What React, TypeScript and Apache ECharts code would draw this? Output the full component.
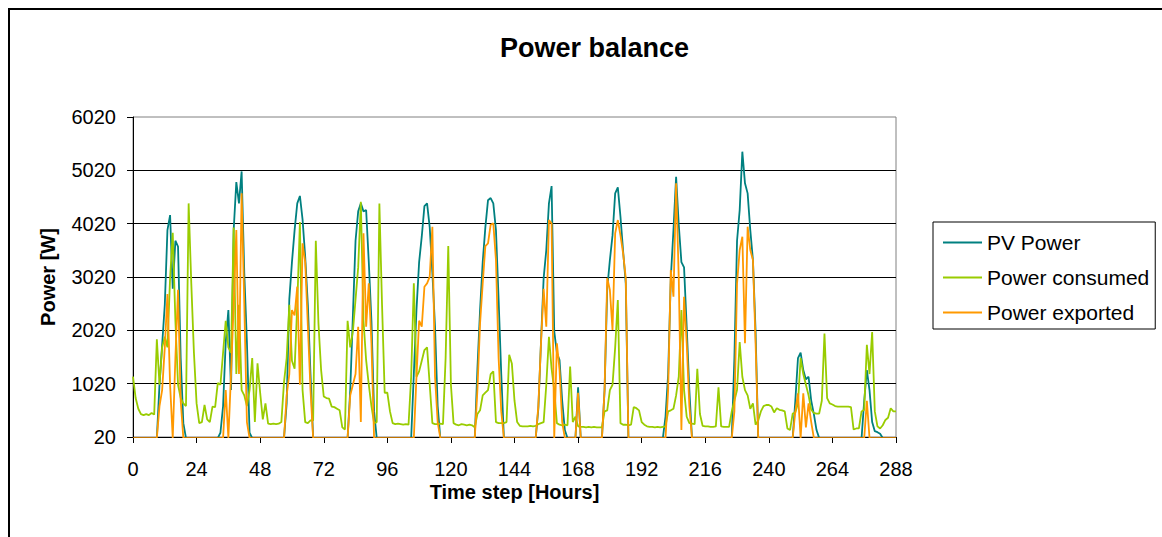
import React, { useEffect, useRef } from "react";
import * as echarts from "echarts";

// Hourly time steps 0..288
const HOURS: number[] = Array.from({ length: 289 }, (_, i) => i);

// Y axis starts at 20 W with 1000 W steps (tick labels 20, 1020, ... 6020)
const Y_BASE = 20;
const Y_TICK_LABELS = [20, 1020, 2020, 3020, 4020, 5020, 6020];
const X_TICKS = [0, 24, 48, 72, 96, 120, 144, 168, 192, 216, 240, 264, 288];

const SERIES_NAMES = ["PV Power", "Power consumed", "Power exported"];

const pvPower: number[] = [
  0,0,0,0,0,0,0,0,0,0,1000,1750,2500,3900,4180,2800,3700,3590,1500,280,0,0,0,0,
  0,0,0,0,0,0,0,0,0,100,600,1800,2400,900,3900,4800,4400,5000,3100,1800,100,0,0,0,
  0,0,0,0,0,0,0,0,0,0,650,2600,3300,3900,4400,4540,4100,3400,2500,1200,0,0,0,0,
  0,0,0,0,0,0,0,0,0,0,900,2300,3700,4250,4400,4250,4276,3300,2200,500,0,0,0,0,
  0,0,0,0,0,0,0,0,0,0,1200,2400,3300,3780,4350,4400,3950,3100,2088,600,0,0,0,0,
  0,0,0,0,0,0,0,0,0,0,1300,2400,3300,3950,4460,4500,4400,3900,2600,1200,0,0,0,0,
  0,0,0,0,0,0,0,0,0,550,1800,3000,3526,4400,4726,2000,1600,1463,700,150,0,0,0,0,
  950,0,0,0,0,0,0,0,0,0,900,2800,3338,3800,4588,4700,4150,3500,2900,0,0,0,0,0,
  0,0,0,0,0,0,0,0,0,400,1200,3000,3900,4901,4000,3300,3200,2088,900,0,0,0,0,0,
  0,0,0,0,0,0,0,0,0,0,0,1500,3700,4276,5370,4776,4588,3900,3338,2000,0,0,0,0,
  0,0,0,0,0,0,0,0,0,0,700,1500,1600,1276,1100,1150,700,450,150,0,0,0,0,0,
  0,0,0,0,0,0,0,0,0,0,0,0,700,1276,900,300,130,110,80,0,0,0,0,0,
  0,
];

const powerConsumed: number[] = [
  1150,750,550,450,430,450,430,470,440,1850,1000,1700,1900,1700,3000,3850,2200,1000,750,650,600,4400,2900,1600,
  650,280,300,620,350,300,590,580,1030,1000,1600,2200,1700,1600,3950,1200,2500,900,800,600,900,1500,300,1400,
  850,350,650,270,260,270,260,270,300,1050,1500,2500,1450,1300,2500,4050,900,300,280,330,330,3700,2150,1280,
  780,750,740,590,580,550,520,200,160,2200,1700,2000,2600,3200,4430,2200,1460,1000,600,280,300,4400,2500,850,
  850,500,280,260,270,260,250,260,250,1150,2900,1150,1250,1450,1650,1700,1000,280,260,260,270,260,1500,3600,
  1000,280,250,240,260,250,240,250,240,200,450,520,800,850,900,1200,1250,300,280,280,280,300,1560,1400,
  700,300,230,220,220,220,230,220,230,260,280,300,1000,1900,1300,900,280,250,240,250,240,1340,300,400,
  220,210,210,200,210,200,210,200,200,200,500,520,900,1000,1700,2590,280,250,250,240,250,580,560,520,
  300,250,220,210,210,200,210,200,210,220,500,520,550,800,1150,2400,900,400,280,270,260,1300,450,230,
  220,220,210,210,220,950,220,210,210,210,500,700,900,1800,1150,900,800,550,650,250,330,500,600,620,
  620,590,480,560,530,520,500,180,150,460,480,650,1500,1200,1000,800,530,470,460,460,700,1960,750,650,
  630,600,590,590,590,590,590,580,160,180,180,500,530,1750,1200,1990,500,220,180,240,340,380,560,500,
  500,
];

const powerExported: number[] = [
  0,0,0,0,0,0,0,0,0,0,600,900,1700,2700,1000,0,1500,2780,700,0,0,0,0,0,
  0,0,0,0,0,0,0,0,0,0,0,900,0,1200,2500,3900,1200,4590,2530,300,0,0,0,0,
  0,0,0,0,0,0,0,0,0,0,800,1200,2400,2300,2838,1000,3651,3300,2100,900,0,0,0,0,
  0,0,0,0,0,0,0,0,0,0,800,1000,1200,2088,300,3838,2088,2900,1776,0,0,0,0,0,
  0,0,0,0,0,0,0,0,0,0,0,1151,2200,2088,2838,2900,3026,3963,1151,300,0,0,0,0,
  0,0,0,0,0,0,0,0,0,0,900,2151,2900,3600,3651,4000,4026,3338,1500,500,0,0,0,0,
  0,0,0,0,0,0,0,0,0,600,1776,2800,2088,4088,4026,0,1776,1276,300,0,0,0,0,0,
  850,0,0,0,0,0,0,0,0,0,900,3000,2776,2026,3838,4088,3800,3463,3000,0,0,0,0,0,
  0,0,0,0,0,0,0,0,0,0,900,3151,2651,4776,3000,150,2651,1776,600,0,0,0,0,0,
  0,0,0,0,0,0,0,0,0,0,0,500,2901,3526,3776,1776,3963,3526,3338,1776,0,0,0,0,
  0,0,0,0,0,0,0,0,0,0,500,838,0,838,200,651,300,0,0,0,0,0,0,0,
  0,0,0,0,0,0,0,0,0,0,0,0,0,700,0,0,0,0,0,0,0,0,0,0,
  0,
];

const COLORS = ["#008080", "#99CC00", "#FF9900"];
const FONT = "'Liberation Sans', Arial, Helvetica, sans-serif";

function toPairs(values: number[]) {
  return values.map((v, i) => [HOURS[i], v - Y_BASE]);
}

export default function App() {
  const ref = useRef<HTMLDivElement>(null);

  useEffect(() => {
    if (!ref.current) return;
    const chart = echarts.init(ref.current, undefined, { renderer: "svg" });
    const seriesValues = [pvPower, powerConsumed, powerExported];
    const option: any = {
      animation: false,
      backgroundColor: "#ffffff",
      textStyle: { fontFamily: FONT, color: "#000" },
      title: {
        text: "Power balance",
        left: 485,
        top: 19,
        textStyle: { fontFamily: FONT, fontSize: 27, fontWeight: "bold", color: "#000" },
      },
      legend: {
        orient: "vertical",
        left: 923,
        top: 212,
        icon: "rect",
        itemWidth: 39,
        itemHeight: 2,
        itemGap: 14,
        padding: [10, 6, 6, 10],
        borderColor: "#000",
        borderWidth: 1,
        textStyle: { fontFamily: FONT, fontSize: 21, color: "#000", lineHeight: 21 },
        data: SERIES_NAMES,
      },
      grid: {
        left: 123,
        top: 107,
        width: 763,
        height: 320,
        show: true,
        borderColor: "#808080",
        borderWidth: 1,
        backgroundColor: "transparent",
      },
      xAxis: {
        type: "value",
        min: X_TICKS[0],
        max: X_TICKS[X_TICKS.length - 1],
        interval: X_TICKS[1] - X_TICKS[0],
        z: 3,
        name: "Time step [Hours]",
        nameLocation: "middle",
        nameGap: 45,
        nameMoveOverlap: false,
        nameTextStyle: { fontFamily: FONT, fontSize: 20, fontWeight: "bold", color: "#000" },
        axisLine: { show: true, lineStyle: { color: "#000", width: 1 } },
        axisTick: { show: true, inside: false, length: 6, lineStyle: { color: "#000", width: 1 } },
        axisLabel: { fontFamily: FONT, fontSize: 20, color: "#000", margin: 22 },
        splitLine: { show: false },
      },
      yAxis: {
        type: "value",
        min: Y_TICK_LABELS[0] - Y_BASE,
        max: Y_TICK_LABELS[Y_TICK_LABELS.length - 1] - Y_BASE,
        interval: Y_TICK_LABELS[1] - Y_TICK_LABELS[0],
        name: "Power [W]",
        nameLocation: "middle",
        nameGap: 75,
        nameRotate: 90,
        nameMoveOverlap: false,
        nameTextStyle: { fontFamily: FONT, fontSize: 20, fontWeight: "bold", color: "#000" },
        axisLine: { show: true, lineStyle: { color: "#000", width: 1 } },
        axisTick: { show: true, inside: false, length: 6, lineStyle: { color: "#000", width: 1 } },
        axisLabel: {
          fontFamily: FONT,
          fontSize: 20,
          color: "#000",
          margin: 17,
          formatter: (v: number) => String(v + Y_BASE),
        },
        splitLine: { show: true, showMinLine: false, showMaxLine: false, lineStyle: { color: "#000", width: 1 } },
      },
      series: SERIES_NAMES.map((name, i) => ({
        name,
        type: "line",
        data: toPairs(seriesValues[i]),
        symbol: "none",
        showSymbol: false,
        clip: true,
        z: 2 + i,
        lineStyle: { color: COLORS[i], width: 1.8 },
        itemStyle: { color: COLORS[i] },
      })),
    };
    chart.setOption(option);
    return () => chart.dispose();
  }, []);

  return (
    <div
      style={{
        position: "fixed",
        left: 8,
        top: 8,
        width: 1154,
        height: 529,
        boxSizing: "border-box",
        borderLeft: "2px solid #000",
        borderTop: "2px solid #000",
        background: "#fff",
      }}
    >
      <div ref={ref} style={{ position: "absolute", left: 0, top: 0, width: 1152, height: 527 }} />
    </div>
  );
}
